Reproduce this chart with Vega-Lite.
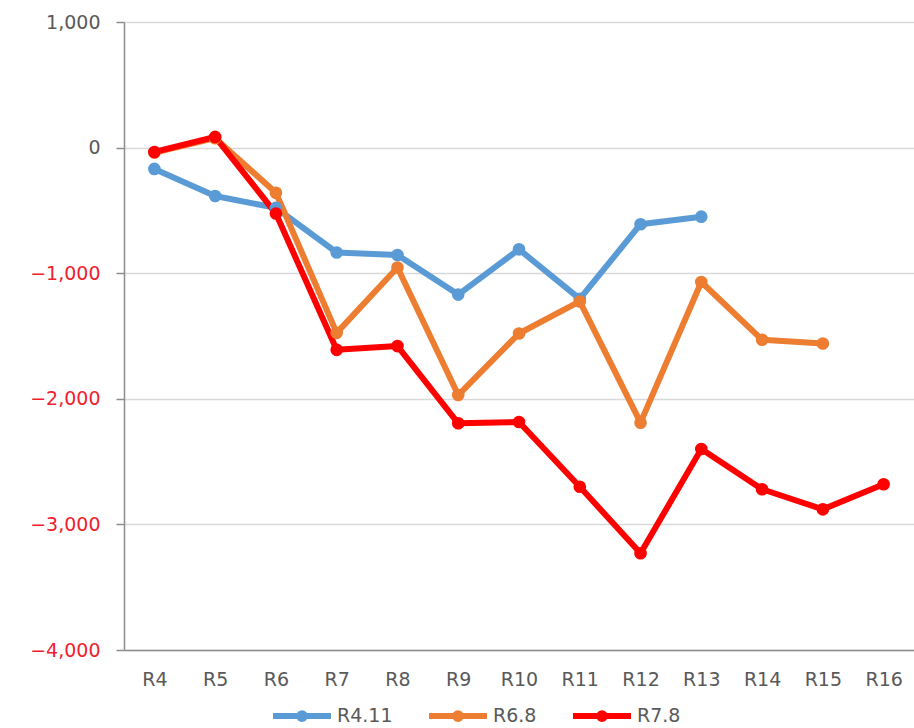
{
  "$schema": "https://vega.github.io/schema/vega-lite/v6.json",
  "width": 790,
  "height": 628,
  "autosize": {"type": "none"},
  "padding": {"left": 124, "top": 22, "right": 0, "bottom": 78},
  "background": "white",
  "config": {
    "view": {"stroke": null},
    "font": "DejaVu Sans"
  },
  "data": {
    "values": [
      {"round": "R4", "series": "R4.11", "value": -170},
      {"round": "R5", "series": "R4.11", "value": -385},
      {"round": "R6", "series": "R4.11", "value": -480},
      {"round": "R7", "series": "R4.11", "value": -835},
      {"round": "R8", "series": "R4.11", "value": -855},
      {"round": "R9", "series": "R4.11", "value": -1170},
      {"round": "R10", "series": "R4.11", "value": -810},
      {"round": "R11", "series": "R4.11", "value": -1205},
      {"round": "R12", "series": "R4.11", "value": -610},
      {"round": "R13", "series": "R4.11", "value": -550},
      {"round": "R4", "series": "R6.8", "value": -40},
      {"round": "R5", "series": "R6.8", "value": 75},
      {"round": "R6", "series": "R6.8", "value": -360},
      {"round": "R7", "series": "R6.8", "value": -1475},
      {"round": "R8", "series": "R6.8", "value": -955},
      {"round": "R9", "series": "R6.8", "value": -1970},
      {"round": "R10", "series": "R6.8", "value": -1480},
      {"round": "R11", "series": "R6.8", "value": -1225},
      {"round": "R12", "series": "R6.8", "value": -2190},
      {"round": "R13", "series": "R6.8", "value": -1070},
      {"round": "R14", "series": "R6.8", "value": -1530},
      {"round": "R15", "series": "R6.8", "value": -1560},
      {"round": "R4", "series": "R7.8", "value": -35},
      {"round": "R5", "series": "R7.8", "value": 85},
      {"round": "R6", "series": "R7.8", "value": -525},
      {"round": "R7", "series": "R7.8", "value": -1610},
      {"round": "R8", "series": "R7.8", "value": -1580},
      {"round": "R9", "series": "R7.8", "value": -2195},
      {"round": "R10", "series": "R7.8", "value": -2185},
      {"round": "R11", "series": "R7.8", "value": -2700},
      {"round": "R12", "series": "R7.8", "value": -3230},
      {"round": "R13", "series": "R7.8", "value": -2400},
      {"round": "R14", "series": "R7.8", "value": -2720},
      {"round": "R15", "series": "R7.8", "value": -2880},
      {"round": "R16", "series": "R7.8", "value": -2680}
    ]
  },
  "encoding": {
    "x": {
      "field": "round",
      "type": "ordinal",
      "sort": ["R4","R5","R6","R7","R8","R9","R10","R11","R12","R13","R14","R15","R16"],
      "scale": {"type": "point", "padding": 0.5},
      "axis": {
        "title": null,
        "labelAngle": 0,
        "ticks": false,
        "grid": false,
        "domainColor": "#8c8c8c",
        "domainWidth": 1.5,
        "labelColor": "#595959",
        "labelFontSize": 19,
        "labelPadding": 20,
        "labelFont": "DejaVu Sans"
      }
    },
    "y": {
      "field": "value",
      "type": "quantitative",
      "scale": {"domain": [-4000, 1000], "nice": false, "zero": false},
      "axis": {
        "title": null,
        "values": [-4000, -3000, -2000, -1000, 0, 1000],
        "format": ",.0f",
        "grid": true,
        "gridColor": "#d9d9d9",
        "gridWidth": 1.5,
        "domainColor": "#8c8c8c",
        "domainWidth": 1.5,
        "tickColor": "#8c8c8c",
        "tickWidth": 1.5,
        "tickSize": 8,
        "labelPadding": 16,
        "labelFontSize": 19,
        "labelFont": "DejaVu Sans",
        "labelColor": {"condition": {"test": "datum.value < 0", "value": "#f0202e"}, "value": "#595959"}
      }
    },
    "color": {
      "field": "series",
      "type": "nominal",
      "scale": {"domain": ["R4.11", "R6.8", "R7.8"], "range": ["#5b9bd5", "#ed7d31", "#ff0000"]},
      "legend": {
        "title": null,
        "orient": "none",
        "direction": "horizontal",
        "legendX": 146,
        "legendY": 662,
        "symbolType": "M -1 0 H 1 M -0.1 0 A 0.1 0.1 0 1 1 0.1 0 A 0.1 0.1 0 1 1 -0.1 0 Z",
        "symbolSize": 3364,
        "labelFontSize": 19,
        "labelColor": "#595959",
        "labelFont": "DejaVu Sans",
        "labelOffset": 3,
        "columnPadding": 24
      }
    },
    "strokeWidth": {
      "field": "series",
      "type": "nominal",
      "scale": {"domain": ["R4.11", "R6.8", "R7.8"], "range": [6, 6, 7]},
      "legend": null
    }
  },
  "layer": [
    {"mark": {"type": "line", "strokeJoin": "round"}},
    {"mark": {"type": "point", "filled": true, "opacity": 1, "size": 160, "strokeWidth": 0}}
  ]
}
